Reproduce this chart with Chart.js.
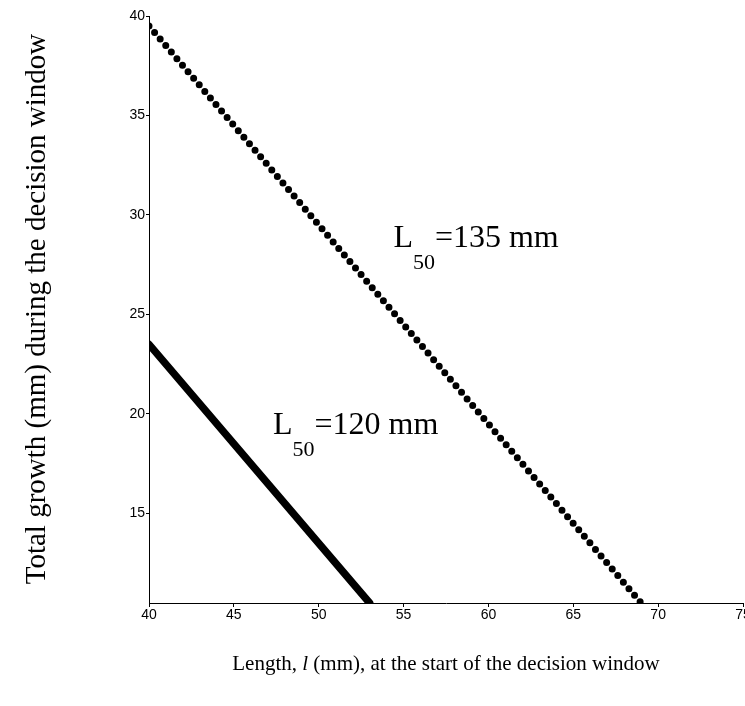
<!DOCTYPE html>
<html>
<head>
<meta charset="utf-8">
<script src="https://cdn.jsdelivr.net/npm/chart.js@4.4.0/dist/chart.umd.min.js"></script>
<style>
  html, body { margin: 0; padding: 0; background: #fff; }
  #wrap { width: 745px; height: 706px; position: relative; }
</style>
</head>
<body>
<div id="wrap"><canvas id="c" width="745" height="706"></canvas></div>
<script>
// ---- data ----
const xTicks = [40, 45, 50, 55, 60, 65, 70, 75];
const yTicks = [15, 20, 25, 30, 35, 40];
// L50 = 120 mm (solid line): [length, total growth]
const line120X = [40, 53];
const line120Y = [23.5, 10.5];
// L50 = 135 mm (dotted line)
const line135X = [40, 69];
const line135Y = [39.5, 10.5];
const labels = [
  { main: 'L', sub: '50', rest: '=135 mm', x: 54.4, y: 28.4 },
  { main: 'L', sub: '50', rest: '=120 mm', x: 47.3, y: 19.0 }
];
const xTitle = ['Length, ', 'l', ' (mm), at the start of the decision window'];
const yTitle = 'Total growth (mm) during the decision window';

const pts = (xs, ys) => xs.map((x, i) => ({ x: x, y: ys[i] }));

const W = 745, H = 706;
const plotLeft = 149, plotRight = 743, plotTop = 16, plotBottom = 603;
const SERIF = '"Liberation Serif", "Times New Roman", serif';

const annotatePlugin = {
  id: 'annot',
  afterDraw(chart) {
    const ctx = chart.ctx;
    const xs = chart.scales.x, ys = chart.scales.y;
    ctx.save();
    ctx.fillStyle = '#000';
    ctx.textBaseline = 'alphabetic';
    // L50 labels
    labels.forEach(l => {
      let px = xs.getPixelForValue(l.x);
      const py = ys.getPixelForValue(l.y);
      ctx.font = '32px ' + SERIF;
      ctx.textAlign = 'left';
      ctx.fillText(l.main, px, py);
      px += ctx.measureText(l.main).width;
      ctx.font = '22px ' + SERIF;
      ctx.fillText(l.sub, px, py + 22);
      px += ctx.measureText(l.sub).width;
      ctx.font = '32px ' + SERIF;
      ctx.fillText(l.rest, px, py);
    });
    // x title with italic l
    const fN = '21px ' + SERIF;
    const fI = 'italic ' + fN;
    ctx.font = fN; const w0 = ctx.measureText(xTitle[0]).width;
    const w2 = ctx.measureText(xTitle[2]).width;
    ctx.font = fI; const w1 = ctx.measureText(xTitle[1]).width;
    let sx = 446 - (w0 + w1 + w2) / 2;
    const by = 670;
    ctx.textAlign = 'left';
    ctx.font = fN; ctx.fillText(xTitle[0], sx, by); sx += w0;
    ctx.font = fI; ctx.fillText(xTitle[1], sx, by); sx += w1;
    ctx.font = fN; ctx.fillText(xTitle[2], sx, by);
    // y title
    ctx.translate(45, 309);
    ctx.rotate(-Math.PI / 2);
    ctx.textAlign = 'center';
    ctx.font = '29px ' + SERIF;
    ctx.fillText(yTitle, 0, 0);
    ctx.restore();
  }
};

new Chart(document.getElementById('c'), {
  type: 'scatter',
  data: {
    datasets: [
      {
        label: 'L50=135 mm',
        data: pts(line135X, line135Y),
        showLine: true,
        borderColor: '#000',
        borderWidth: 7,
        borderDash: [0, 8.6],
        borderCapStyle: 'round',
        pointRadius: 0,
        fill: false
      },
      {
        label: 'L50=120 mm',
        data: pts(line120X, line120Y),
        showLine: true,
        borderColor: '#000',
        borderWidth: 7.5,
        borderCapStyle: 'round',
        pointRadius: 0,
        fill: false
      }
    ]
  },
  options: {
    responsive: false,
    animation: false,
    devicePixelRatio: 1,
    layout: { padding: { left: 0, right: W - plotRight, top: plotTop, bottom: 0 } },
    plugins: { legend: { display: false }, tooltip: { enabled: false }, title: { display: false } },
    scales: {
      x: {
        type: 'linear',
        min: 40, max: 75,
        afterBuildTicks: s => { s.ticks = xTicks.map(v => ({ value: v })); },
        afterFit: s => { s.height = H - plotBottom; s.paddingLeft = 0; s.paddingRight = 0; },
        border: { display: true, color: '#000', width: 1 },
        grid: { display: true, drawOnChartArea: false, drawTicks: true, tickLength: 4, color: '#000' },
        ticks: { color: '#000', padding: 0, maxRotation: 0, font: { family: '"Liberation Sans", Arial, sans-serif', size: 14 } }
      },
      y: {
        type: 'linear',
        min: 10.5, max: 40,
        afterBuildTicks: s => { s.ticks = yTicks.map(v => ({ value: v })); },
        afterFit: s => { s.width = plotLeft; s.paddingTop = 0; s.paddingBottom = 0; },
        border: { display: true, color: '#000', width: 1 },
        grid: { display: true, drawOnChartArea: false, drawTicks: true, tickLength: 3, color: '#000' },
        ticks: { color: '#000', padding: 1, font: { family: '"Liberation Sans", Arial, sans-serif', size: 14 } }
      }
    }
  },
  plugins: [annotatePlugin]
});
</script>
</body>
</html>
